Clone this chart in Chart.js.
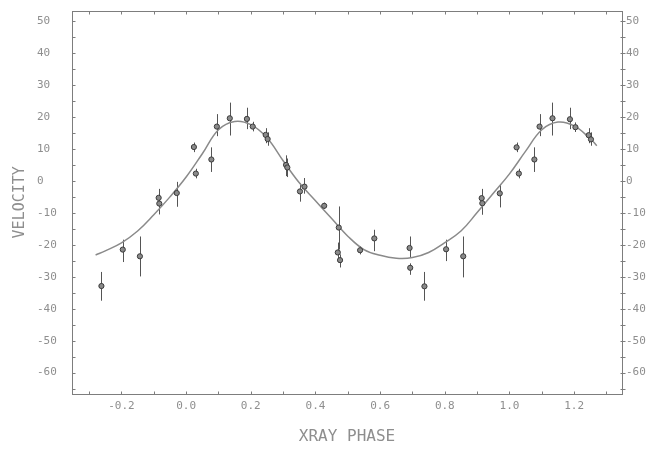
<!DOCTYPE html>
<html><head><meta charset="utf-8">
<script src="https://cdn.jsdelivr.net/npm/chart.js@4.4.1/dist/chart.umd.min.js"></script>
<style>html,body{margin:0;padding:0;background:#fff;}canvas{display:block;}</style>
</head><body>
<canvas id="c" width="661" height="449"></canvas>
<script>
// fitted velocity curve
const curvePhase = [-0.28,-0.25,-0.20,-0.15,-0.10,-0.05,0.00,0.05,0.10,0.15,0.20,0.25,0.30,0.35,0.40,0.45,0.50,0.55,0.60,0.65,0.70,0.75,0.80,0.85,0.90,0.95,1.00,1.05,1.10,1.15,1.20,1.25,1.27];
const curveVelocity = [-23.2,-21.9,-19.4,-15.7,-10.6,-5.0,1.2,8.5,16.0,18.6,17.6,13.5,6.3,-0.6,-6.2,-11.8,-17.3,-21.5,-23.3,-24.2,-24.0,-22.4,-19.3,-15.7,-9.9,-3.9,2.2,9.3,16.0,18.4,17.2,13.2,11.0];

// observations with error bars
const obsPhase = [-0.262,-0.196,-0.143,-0.085,-0.083,-0.029,0.024,0.030,0.078,0.095,0.135,0.188,0.206,0.246,0.252,0.309,0.313,0.352,0.366,0.427,0.472,0.469,0.476,0.538,0.582,0.691,0.693,0.737,0.804,0.857,0.914,0.916,0.970,1.022,1.029,1.077,1.093,1.133,1.187,1.204,1.245,1.252];
const obsVelocity = [-32.9,-21.5,-23.6,-5.3,-7.1,-3.8,10.6,2.3,6.7,17.0,19.6,19.4,17.0,14.4,13.1,5.0,4.2,-3.3,-1.8,-7.8,-14.6,-22.4,-24.8,-21.7,-18.0,-21.0,-27.2,-33.0,-21.4,-23.6,-5.4,-7.0,-3.9,10.5,2.3,6.7,17.0,19.6,19.3,16.8,14.3,13.0];
const obsLow = [-37.5,-25.4,-29.9,-8.5,-10.5,-8.1,9.0,0.8,2.8,14.0,14.2,16.2,15.5,11.8,11.0,1.5,1.2,-6.5,-4.0,-8.8,-21.5,-24.5,-27.1,-23.0,-22.0,-24.1,-29.4,-37.5,-25.1,-30.2,-8.5,-10.6,-8.3,9.0,0.8,2.8,14.0,14.2,16.2,15.3,11.8,11.0];
const obsHigh = [-28.5,-18.4,-17.4,-2.5,-4.0,-0.3,12.0,3.8,10.5,20.9,24.5,22.9,18.5,16.5,15.2,8.0,7.0,-0.8,0.9,-6.8,-8.0,-19.3,-23.0,-20.4,-15.3,-17.4,-25.8,-28.5,-18.4,-17.4,-2.5,-3.9,-1.0,12.0,3.8,10.5,20.9,24.5,22.9,18.3,16.5,15.2];

const yTickValues = [50,40,30,20,10,0,-10,-20,-30,-40,-50,-60];
const xTickValues = [-0.2,0.0,0.2,0.4,0.6,0.8,1.0,1.2];
const xTickLabels = ['-0.2','0.0','0.2','0.4','0.6','0.8','1.0','1.2'];
const xTitle = 'XRAY PHASE';
const yTitle = 'VELOCITY';

const X_MIN = -0.353, X_MAX = 1.348, Y_MIN = -66.7, Y_MAX = 53.3;
const AXIS = '#7d7d7d', TXT = '#8e8e8e';
const tickFont = {family: 'DejaVu Sans Mono', size: 11};

const framePlugin = {
  id: 'frame',
  beforeDatasetsDraw(chart) {
    const {ctx, scales: {x, y}} = chart;
    ctx.save();
    ctx.strokeStyle = '#555';
    ctx.lineWidth = 1;
    for (let i = 0; i < obsPhase.length; i++) {
      const px = Math.round(x.getPixelForValue(obsPhase[i])) + 0.5;
      ctx.beginPath();
      ctx.moveTo(px, y.getPixelForValue(obsLow[i]));
      ctx.lineTo(px, y.getPixelForValue(obsHigh[i]));
      ctx.stroke();
    }
    ctx.restore();
  },
  afterDraw(chart) {
    const {ctx, chartArea: a, scales: {x, y}} = chart;
    ctx.save();
    ctx.strokeStyle = AXIS;
    ctx.lineWidth = 1;
    const L = Math.round(a.left) + 0.5, R = Math.round(a.right) + 0.5;
    const T = Math.round(a.top) + 0.5, B = Math.round(a.bottom) + 0.5;
    ctx.strokeRect(L, T, R - L, B - T);
    ctx.beginPath();
    for (let v = -65; v <= 50; v += 5) {
      const py = Math.round(y.getPixelForValue(v)) + 0.5;
      ctx.moveTo(L, py); ctx.lineTo(L + 3, py);
      ctx.moveTo(R - 2, py); ctx.lineTo(R + 3, py);
    }
    for (let k = -3; k <= 13; k++) {
      const px = Math.round(x.getPixelForValue(k / 10)) + 0.5;
      ctx.moveTo(px, B); ctx.lineTo(px, B - 3);
      ctx.moveTo(px, T); ctx.lineTo(px, T + 3);
    }
    ctx.stroke();
    ctx.restore();
  }
};

const setTicks = vals => s => { s.ticks = vals.map(v => ({value: v})); };

new Chart(document.getElementById('c'), {
  type: 'scatter',
  data: {
    datasets: [
      {
        label: 'fit', xAxisID: 'x', yAxisID: 'y',
        data: curvePhase.map((p, i) => ({x: p, y: curveVelocity[i]})),
        showLine: true, pointRadius: 0, borderColor: '#8a8a8a', borderWidth: 1.5,
        tension: 0.4, fill: false, order: 2
      },
      {
        label: 'obs', xAxisID: 'x', yAxisID: 'y',
        data: obsPhase.map((p, i) => ({x: p, y: obsVelocity[i]})),
        pointRadius: 2.6, pointBackgroundColor: '#8a8a8a', pointBorderColor: '#3a3a3a',
        pointBorderWidth: 1, order: 1
      }
    ]
  },
  options: {
    responsive: false, animation: false, devicePixelRatio: 1,
    layout: {padding: {top: 7, left: 0, right: 0, bottom: 0}},
    plugins: {legend: {display: false}, tooltip: {enabled: false}},
    scales: {
      x: {
        type: 'linear', position: 'bottom', min: X_MIN, max: X_MAX,
        afterBuildTicks: setTicks(xTickValues),
        afterFit: s => { s.height = 55; },
        grid: {display: false, drawTicks: false}, border: {display: false},
        ticks: {autoSkip: false, maxRotation: 0, padding: 6, color: TXT, font: tickFont,
          callback: (v) => xTickLabels[xTickValues.findIndex(t => Math.abs(t - v) < 1e-9)]},
        title: {display: true, text: xTitle, color: TXT, font: {family: 'DejaVu Sans Mono', size: 16},
          padding: {top: 0, bottom: 3}}
      },
      y: {
        type: 'linear', position: 'left', weight: 0, min: Y_MIN, max: Y_MAX,
        afterBuildTicks: setTicks(yTickValues),
        afterFit: s => { s.width = 35; },
        grid: {display: false, drawTicks: false}, border: {display: false},
        ticks: {crossAlign: 'far', color: TXT, font: tickFont, callback: v => String(v)}
      },
      yt: {
        type: 'linear', position: 'left', weight: 5, display: true,
        afterFit: s => { s.width = 37; },
        grid: {display: false, drawTicks: false}, border: {display: false},
        ticks: {display: false},
        title: {display: true, text: yTitle, color: TXT, font: {family: 'DejaVu Sans Mono', size: 15},
          padding: {top: 11, bottom: 0}}
      },
      y2: {
        type: 'linear', position: 'right', min: Y_MIN, max: Y_MAX,
        afterBuildTicks: setTicks(yTickValues),
        afterFit: s => { s.width = 39; },
        grid: {display: false, drawTicks: false}, border: {display: false},
        ticks: {crossAlign: 'near', padding: 4, color: TXT, font: tickFont, callback: v => String(v)}
      }
    }
  },
  plugins: [framePlugin]
});
</script>
</body></html>
